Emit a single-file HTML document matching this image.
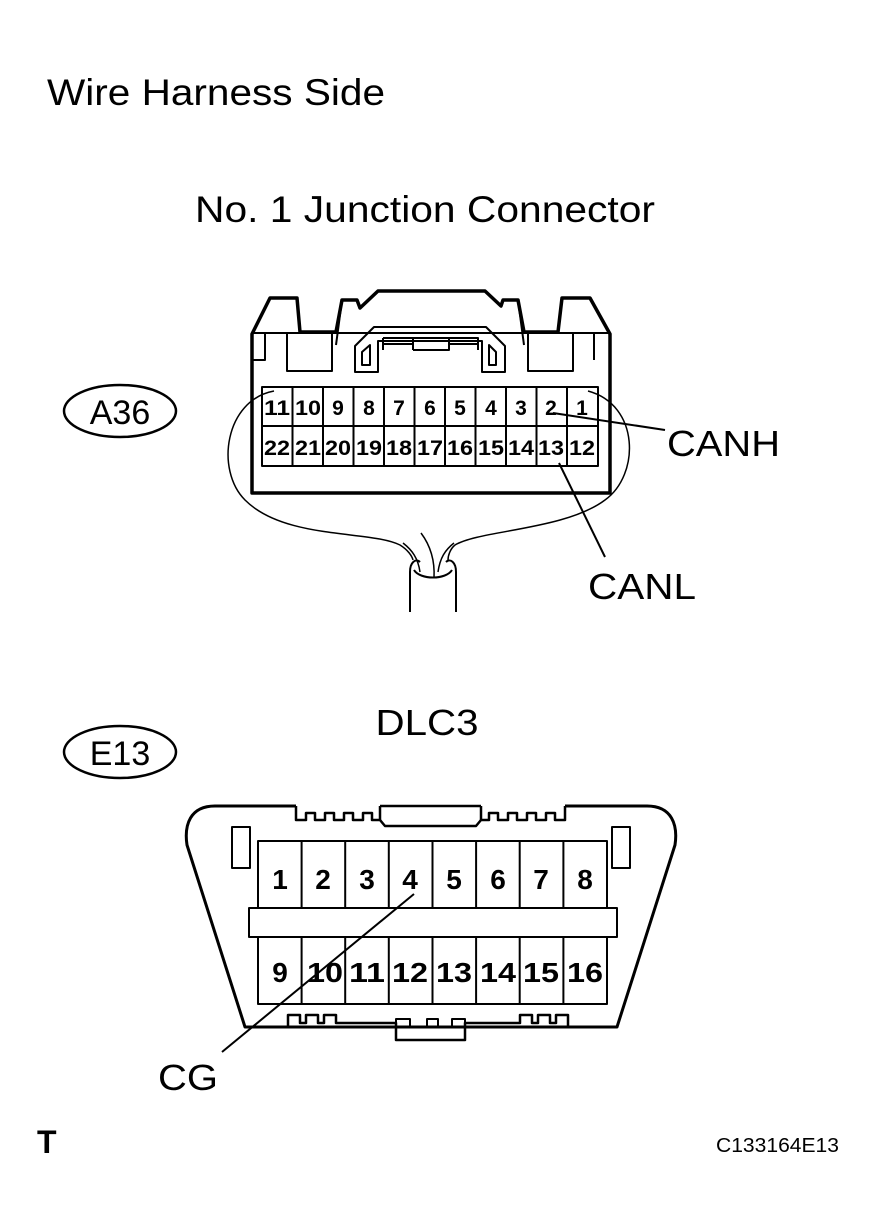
<!DOCTYPE html>
<html><head><meta charset="utf-8"><style>
html,body{margin:0;padding:0;background:#fff;}
svg{display:block;}
text{font-family:"Liberation Sans",Arial,sans-serif;fill:#000;}
</style></head><body>
<svg width="875" height="1228" viewBox="0 0 875 1228" xmlns="http://www.w3.org/2000/svg">
<rect width="875" height="1228" fill="#fff"/>
<text x="47" y="105" font-size="37" textLength="338" lengthAdjust="spacingAndGlyphs">Wire Harness Side</text>
<text x="195" y="222" font-size="37" textLength="460" lengthAdjust="spacingAndGlyphs">No. 1 Junction Connector</text>

<ellipse cx="120" cy="411" rx="56" ry="26" fill="none" stroke="#000" stroke-width="2.5"/>
<text x="120" y="424" font-size="34" text-anchor="middle">A36</text>

<g fill="none" stroke="#000" stroke-linejoin="round">
<path d="M252,334 L270,298 L297,298 L300,332 L336,332 L342,300 L357,300 L360,308 L378,291 L485,291 L501,306 L503,300 L518,300 L524,332 L558,332 L562,298 L590,298 L610,334 L610,493 L252,493 Z" stroke-width="3.5"/>
<path d="M252,333 L610,333" stroke-width="2"/>
<path d="M265,333 L265,360 L252,360 M287,333 L287,371 L332,371 L332,333 M528,333 L528,371 L573,371 L573,333 M594,333 L594,360" stroke-width="2"/>
<path d="M342,300 L336,345 M518,300 L524,345" stroke-width="2"/>
<path d="M355,372 L355,346 L374,327 L486,327 L505,346 L505,372 L482,372 L482,341 L378,341 L378,372 Z" stroke-width="2"/>
<path d="M383,350 L383,338 M383,338 L413,338 L413,350 M383,344 L413,344 M413,338 L449,338 L449,350 L413,350 M449,338 L478,338 L478,350 M449,344 L478,344" stroke-width="2"/>
<path d="M362,365 L362,352 L370,345 L370,365 Z M496,365 L496,352 L489,345 L489,365 Z" stroke-width="2"/>
<rect x="262" y="387" width="336" height="79" stroke-width="2"/>
<path d="M262,426 L598,426" stroke-width="2"/>
</g>
<g stroke="#000" stroke-width="2">
<line x1="292.5" y1="387" x2="292.5" y2="466"/><line x1="323" y1="387" x2="323" y2="466"/><line x1="353.5" y1="387" x2="353.5" y2="466"/><line x1="384" y1="387" x2="384" y2="466"/><line x1="414.5" y1="387" x2="414.5" y2="466"/><line x1="445" y1="387" x2="445" y2="466"/><line x1="475.5" y1="387" x2="475.5" y2="466"/><line x1="506" y1="387" x2="506" y2="466"/><line x1="536.5" y1="387" x2="536.5" y2="466"/><line x1="567" y1="387" x2="567" y2="466"/>
</g>
<g font-size="21" font-weight="bold" text-anchor="middle">
<text x="277" y="415" textLength="26" lengthAdjust="spacingAndGlyphs">11</text><text x="308" y="415" textLength="26" lengthAdjust="spacingAndGlyphs">10</text><text x="338" y="415">9</text><text x="369" y="415">8</text><text x="399" y="415">7</text><text x="430" y="415">6</text><text x="460" y="415">5</text><text x="491" y="415">4</text><text x="521" y="415">3</text><text x="551" y="415">2</text><text x="582" y="415">1</text>
<text x="277" y="455" textLength="26" lengthAdjust="spacingAndGlyphs">22</text><text x="308" y="455" textLength="26" lengthAdjust="spacingAndGlyphs">21</text><text x="338" y="455" textLength="26" lengthAdjust="spacingAndGlyphs">20</text><text x="369" y="455" textLength="26" lengthAdjust="spacingAndGlyphs">19</text><text x="399" y="455" textLength="26" lengthAdjust="spacingAndGlyphs">18</text><text x="430" y="455" textLength="26" lengthAdjust="spacingAndGlyphs">17</text><text x="460" y="455" textLength="26" lengthAdjust="spacingAndGlyphs">16</text><text x="491" y="455" textLength="26" lengthAdjust="spacingAndGlyphs">15</text><text x="521" y="455" textLength="26" lengthAdjust="spacingAndGlyphs">14</text><text x="551" y="455" textLength="26" lengthAdjust="spacingAndGlyphs">13</text><text x="582" y="455" textLength="26" lengthAdjust="spacingAndGlyphs">12</text>
</g>
<g fill="none" stroke="#000" stroke-width="1.5">
<path d="M274,391 C225,400 215,470 245,500 C285,540 370,530 400,545 C408,550 412,556 413,560"/>
<path d="M588,391 C640,405 640,475 605,500 C565,530 480,530 455,545 C450,549 448,556 448,560"/>
<path d="M403,543 C412,550 418,558 420,572 M421,533 C430,545 435,560 434,578 M454,543 C445,550 440,558 438,572"/>
</g>
<g fill="none" stroke="#000" stroke-width="2">
<path d="M410,612 L410,572 C410,562 416,558 420,562 M456,612 L456,572 C456,562 450,558 446,562"/>
<path d="M414,570 C420,580 446,580 452,570"/>
</g>
<line x1="553" y1="413" x2="665" y2="430" stroke="#000" stroke-width="2"/>
<line x1="559" y1="463" x2="605" y2="557" stroke="#000" stroke-width="2"/>
<text x="667" y="456" font-size="36" textLength="113" lengthAdjust="spacingAndGlyphs">CANH</text>
<text x="588" y="599" font-size="36" textLength="108" lengthAdjust="spacingAndGlyphs">CANL</text>

<text x="427" y="735" font-size="36" text-anchor="middle" textLength="103" lengthAdjust="spacingAndGlyphs">DLC3</text>
<ellipse cx="120" cy="752" rx="56" ry="26" fill="none" stroke="#000" stroke-width="2.5"/>
<text x="120" y="765" font-size="34" text-anchor="middle">E13</text>

<g fill="none" stroke="#000" stroke-linejoin="round">
<path d="M296,806 L215,806 C190,806 184,825 187,845 L245,1027 L617,1027 L675,845 C678,825 672,806 647,806 L565,806" stroke-width="3"/>
<path d="M296,806 L296,820 L306,820 L306,813 L315,813 L315,820 L325,820 L325,813 L334,813 L334,820 L344,820 L344,813 L353,813 L353,820 L363,820 L363,813 L372,813 L372,820 L380,820 L385,826 L476,826 L481,820 L489,820 L489,813 L498,813 L498,820 L508,820 L508,813 L517,813 L517,820 L527,820 L527,813 L536,813 L536,820 L546,820 L546,813 L555,813 L555,820 L565,820 L565,806" stroke-width="2.5"/>
<path d="M380,806 L380,820 M481,806 L481,820 M380,806 L481,806" stroke-width="2.5"/>
<path d="M288,1027 L288,1015 L300,1015 L300,1023 L306,1023 L306,1015 L318,1015 L318,1023 L324,1023 L324,1015 L336,1015 L336,1023 L396,1023 L396,1040 L465,1040 L465,1023 L520,1023 L520,1015 L532,1015 L532,1023 L538,1023 L538,1015 L550,1015 L550,1023 L556,1023 L556,1015 L568,1015 L568,1027" stroke-width="2.5"/>
<path d="M396,1023 L396,1019 L410,1019 L410,1027 L427,1027 L427,1019 L438,1019 L438,1027 L452,1027 L452,1019 L465,1019 L465,1023" stroke-width="2"/>
<rect x="232" y="827" width="18" height="41" stroke-width="2"/>
<rect x="612" y="827" width="18" height="41" stroke-width="2"/>
<rect x="258" y="841" width="349" height="163" stroke-width="2"/>
<rect x="249" y="908" width="368" height="29" fill="#fff" stroke-width="2"/>
</g>
<g stroke="#000" stroke-width="2">
<line x1="301.6" y1="841" x2="301.6" y2="908"/><line x1="345.2" y1="841" x2="345.2" y2="908"/><line x1="388.8" y1="841" x2="388.8" y2="908"/><line x1="432.5" y1="841" x2="432.5" y2="908"/><line x1="476.1" y1="841" x2="476.1" y2="908"/><line x1="519.7" y1="841" x2="519.7" y2="908"/><line x1="563.4" y1="841" x2="563.4" y2="908"/>
<line x1="301.6" y1="937" x2="301.6" y2="1004"/><line x1="345.2" y1="937" x2="345.2" y2="1004"/><line x1="388.8" y1="937" x2="388.8" y2="1004"/><line x1="432.5" y1="937" x2="432.5" y2="1004"/><line x1="476.1" y1="937" x2="476.1" y2="1004"/><line x1="519.7" y1="937" x2="519.7" y2="1004"/><line x1="563.4" y1="937" x2="563.4" y2="1004"/>
</g>
<g font-size="28" font-weight="bold" text-anchor="middle">
<text x="280" y="889">1</text><text x="323" y="889">2</text><text x="367" y="889">3</text><text x="410" y="889">4</text><text x="454" y="889">5</text><text x="498" y="889">6</text><text x="541" y="889">7</text><text x="585" y="889">8</text>
<text x="280" y="982">9</text><text x="325" y="982" textLength="36" lengthAdjust="spacingAndGlyphs">10</text><text x="367" y="982" textLength="36" lengthAdjust="spacingAndGlyphs">11</text><text x="410" y="982" textLength="36" lengthAdjust="spacingAndGlyphs">12</text><text x="454" y="982" textLength="36" lengthAdjust="spacingAndGlyphs">13</text><text x="498" y="982" textLength="36" lengthAdjust="spacingAndGlyphs">14</text><text x="541" y="982" textLength="36" lengthAdjust="spacingAndGlyphs">15</text><text x="585" y="982" textLength="36" lengthAdjust="spacingAndGlyphs">16</text>
</g>
<line x1="414" y1="894" x2="222" y2="1052" stroke="#000" stroke-width="2"/>
<text x="158" y="1090" font-size="36" textLength="60" lengthAdjust="spacingAndGlyphs">CG</text>
<text x="37" y="1153" font-size="32" font-weight="bold">T</text>
<text x="716" y="1152" font-size="20" textLength="123" lengthAdjust="spacingAndGlyphs">C133164E13</text>
</svg>
</body></html>
